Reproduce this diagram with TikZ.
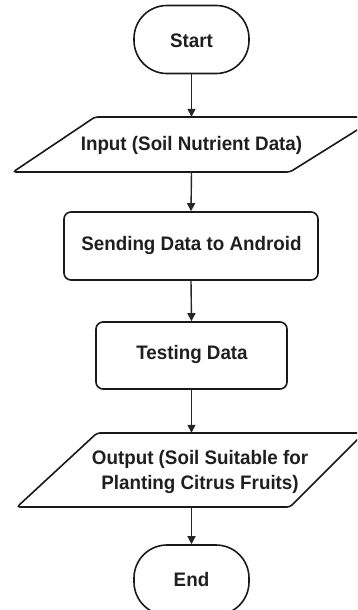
\documentclass[tikz,border=0pt]{standalone}
\usepackage{fontspec}
\usepackage{graphicx}
\setmainfont{Liberation Sans}
\usetikzlibrary{arrows.meta}
\newcommand\lbl[1]{\scalebox{1}[1.04]{#1}}
\tikzset{
  line/.style={line width=1.6pt, draw=black!90},
  term/.style={line, rounded corners=33pt, minimum width=115pt, minimum height=68pt, inner sep=0pt},
  proc/.style={line, rounded corners=7pt, inner sep=0pt},
  ghost/.style={inner sep=0pt},
  txt/.style={font=\bfseries\fontsize{18.8}{25}\selectfont, text=black!88, inner sep=0pt, align=center},
  flow/.style={line width=1.4pt, draw=black!85, -{Triangle[length=8pt,width=8pt]}},
}
\begin{document}
\begin{tikzpicture}[x=1pt, y=-1pt]
\useasboundingbox (0,0) rectangle (357,610);
\clip (0,0) rectangle (357,610);
% Start
\node[term] (start) at (191.5,39.5) {};
\node[txt] (tstart) at (191.5,41) {\lbl{Start}};
% Input parallelogram
\draw[line, rounded corners=3pt] (95,117) -- (378,117) -- (290,172) -- (13,172) -- cycle;
\node[ghost, minimum width=200pt, minimum height=55pt] (input) at (191.5,144.5) {};
\node[txt] (tinput) at (191.5,145) {\lbl{Input (Soil Nutrient Data)}};
% Sending
\node[proc, minimum width=254pt, minimum height=68pt] (send) at (191,246) {};
\node[txt] (tsend) at (191.5,245) {\lbl{Sending Data to Android}};
% Testing
\node[proc, minimum width=191pt, minimum height=67pt] (test) at (191.5,355.5) {};
\node[txt] (ttest) at (192,354) {\lbl{Testing Data}};
% Output parallelogram
\draw[line, rounded corners=3pt] (97,433) -- (364,433) -- (290,507) -- (17,507) -- cycle;
\node[ghost, minimum width=200pt, minimum height=74pt] (output) at (191.5,470) {};
\node[txt] (toutput) at (200,472) {\lbl{Output (Soil Suitable for}\\[0pt]\lbl{Planting Citrus Fruits)}};
% End
\node[term, minimum height=70pt] (end) at (191.5,580) {};
\node[txt] (tend) at (191.5,580) {\lbl{End}};
% connectors
\draw[flow] (start.south) -- (input.north);
\draw[flow] (input.south) -- (send.north);
\draw[flow] (send.south) -- (test.north);
\draw[flow] (test.south) -- (output.north);
\draw[flow] (output.south) -- (end.north);
\end{tikzpicture}
\end{document}
